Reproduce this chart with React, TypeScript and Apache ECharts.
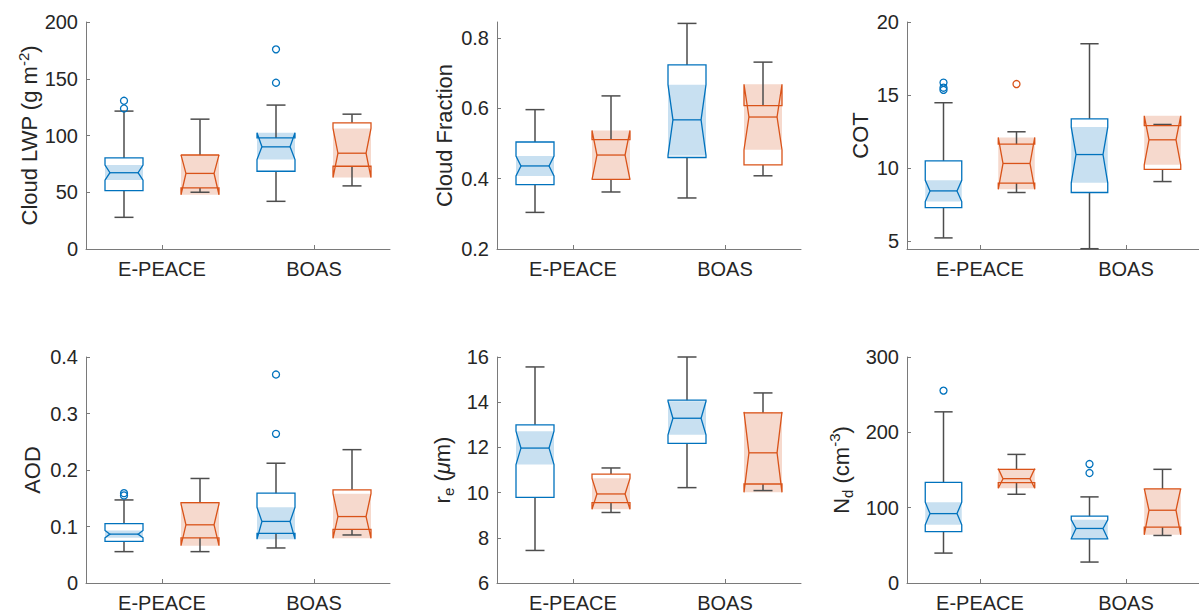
import React, { useEffect, useRef } from 'react';
import * as echarts from 'echarts';

// ---------- data ----------
const categories = ['E-PEACE', 'BOAS'];

// each row: [lower whisker, Q1, notch low, median, notch high, Q3, upper whisker]
const lwpBlue = [[27.9, 51.5, 60.7, 67.2, 73.9, 80.2, 121.5], [42.0, 68.5, 78.8, 90.0, 102.4, 97.9, 126.8]];
const lwpOrange = [[50.0, 53.8, 47.8, 66.6, 83.0, 82.8, 114.4], [55.6, 72.9, 62.9, 84.4, 106.2, 111.2, 118.8]];
const lwpBlueOut = [[0, 130.6], [0, 123.8], [1, 175.9], [1, 146.5]];
const lwpOrangeOut: number[][] = [];
const lwpTicks = [0, 50, 100, 150, 200];

const cfBlue = [[0.304, 0.383, 0.4075, 0.436, 0.464, 0.504, 0.596], [0.345, 0.46, 0.466, 0.567, 0.667, 0.723, 0.841]];
const cfOrange = [[0.362, 0.398, 0.397, 0.467, 0.537, 0.511, 0.635], [0.408, 0.439, 0.482, 0.575, 0.668, 0.6075, 0.731]];
const cfBlueOut: number[][] = [];
const cfOrangeOut: number[][] = [];
const cfTicks = [0.2, 0.4, 0.6, 0.8];

const cotBlue = [[5.21, 7.29, 7.7, 8.43, 9.16, 10.49, 14.47], [4.47, 8.32, 8.98, 10.92, 12.8, 13.37, 18.51]];
const cotOrange = [[8.32, 8.96, 8.54, 10.31, 12.09, 11.63, 12.48], [9.07, 9.9, 10.22, 11.93, 13.57, 12.9, 12.98]];
const cotBlueOut = [[0, 15.85], [0, 15.5], [0, 15.35]];
const cotOrangeOut = [[0, 15.75]];
const cotTicks = [5, 10, 15, 20];

const aodBlue = [[0.0555, 0.0735, 0.08, 0.0865, 0.093, 0.105, 0.147], [0.062, 0.088, 0.0776, 0.109, 0.134, 0.159, 0.212]];
const aodOrange = [[0.0555, 0.08, 0.066, 0.103, 0.14, 0.142, 0.185], [0.085, 0.095, 0.079, 0.1176, 0.158, 0.165, 0.236]];
const aodBlueOut = [[0, 0.159], [0, 0.155], [1, 0.369], [1, 0.264]];
const aodOrangeOut: number[][] = [];
const aodTicks = [0, 0.1, 0.2, 0.3, 0.4];

const reBlue = [[7.44, 9.79, 11.24, 11.97, 12.72, 13.0, 15.56], [10.22, 12.18, 12.56, 13.29, 14.04, 14.09, 16.0]];
const reOrange = [[9.12, 9.56, 9.26, 9.94, 10.63, 10.82, 11.09], [10.09, 10.38, 10.01, 11.76, 13.57, 13.53, 14.41]];
const reBlueOut: number[][] = [];
const reOrangeOut: number[][] = [];
const reTicks = [6, 8, 10, 12, 14, 16];

const ndBlue = [[39.7, 68.3, 77.2, 92.1, 107.2, 133.7, 227.2], [27.8, 58.5, 59.0, 72.4, 83.8, 88.7, 114.3]];
const ndOrange = [[117.8, 133.2, 125.7, 138.5, 151.8, 150.9, 170.7], [63.1, 74.1, 64.0, 96.6, 125.5, 124.9, 150.9]];
const ndBlueOut = [[0, 255.4], [1, 157.9], [1, 146.0]];
const ndOrangeOut: number[][] = [];
const ndTicks = [0, 100, 200, 300];

// ---------- styling ----------
const BLUE = '#0072BD';
const ORANGE = '#D95319';
const BLUE_FILL = '#c8e0f1';
const ORANGE_FILL = '#f6d9cd';
const WHISKER = '#4d4d4d';
const TEXT = '#262626';
const AXIS = '#7a7a7a';
const FONT = '"Liberation Sans", Arial, Helvetica, sans-serif';

const panels = [
  { blue: lwpBlue, orange: lwpOrange, blueOut: lwpBlueOut, orangeOut: lwpOrangeOut, min: 0, max: 200, ticks: lwpTicks, name: '{a|Cloud LWP (g m}{sup|-2}{a|)}', gap: 42 },
  { blue: cfBlue, orange: cfOrange, blueOut: cfBlueOut, orangeOut: cfOrangeOut, min: 0.2, max: 0.845, ticks: cfTicks, name: '{a|Cloud Fraction}', gap: 39 },
  { blue: cotBlue, orange: cotOrange, blueOut: cotBlueOut, orangeOut: cotOrangeOut, min: 4.45, max: 20, ticks: cotTicks, name: '{a|COT}', gap: 33 },
  { blue: aodBlue, orange: aodOrange, blueOut: aodBlueOut, orangeOut: aodOrangeOut, min: 0, max: 0.4, ticks: aodTicks, name: '{a|AOD}', gap: 40 },
  { blue: reBlue, orange: reOrange, blueOut: reBlueOut, orangeOut: reOrangeOut, min: 6, max: 16, ticks: reTicks, name: '{a|r}{sub|e}{a| (}{mu|μ}{a|m)}', gap: 41 },
  { blue: ndBlue, orange: ndOrange, blueOut: ndBlueOut, orangeOut: ndOrangeOut, min: 0, max: 300, ticks: ndTicks, name: '{a|N}{sub|d}{a| (cm}{sup|-3}{a|)}', gap: 52 },
];

const colLeft = [86, 497, 907];
const colWidth = [304, 304, 303];
const rowTop = [22, 357];
const rowHeight = [227, 226];

function makeBox(sign: number, color: string, fill: string) {
  return (params: any, api: any) => {
    const cat = api.value(0);
    const mn = api.value(1), q1 = api.value(2), nlo = api.value(3), med = api.value(4);
    const nhi = api.value(5), q3 = api.value(6), mx = api.value(7);
    const bw = api.size([1, 0])[0];
    const c = api.coord([cat, med]);
    const cx = c[0] + sign * 0.25 * bw;
    const w = 0.25 * bw;
    const L = cx - w / 2;
    const R = cx + w / 2;
    const d = 0.13 * w;
    const y = (v: number) => api.coord([cat, v])[1];
    const capHalf = w * 0.25;
    const ws = { stroke: WHISKER, lineWidth: 1.5 };
    return {
      type: 'group',
      children: [
        { type: 'rect', shape: { x: L, y: y(nhi), width: w, height: y(nlo) - y(nhi) }, style: { fill } },
        { type: 'line', shape: { x1: cx, y1: y(q3), x2: cx, y2: y(mx) }, style: ws },
        { type: 'line', shape: { x1: cx - capHalf, y1: y(mx), x2: cx + capHalf, y2: y(mx) }, style: ws },
        { type: 'line', shape: { x1: cx, y1: y(q1), x2: cx, y2: y(mn) }, style: ws },
        { type: 'line', shape: { x1: cx - capHalf, y1: y(mn), x2: cx + capHalf, y2: y(mn) }, style: ws },
        {
          type: 'polygon',
          shape: {
            points: [
              [L, y(q1)], [L, y(nlo)], [L + d, y(med)], [L, y(nhi)], [L, y(q3)],
              [R, y(q3)], [R, y(nhi)], [R - d, y(med)], [R, y(nlo)], [R, y(q1)],
            ],
          },
          style: { fill: 'none', stroke: color, lineWidth: 1.3, lineJoin: 'miter' },
        },
        { type: 'line', shape: { x1: L + d, y1: y(med), x2: R - d, y2: y(med) }, style: { stroke: color, lineWidth: 1.3 } },
      ],
    };
  };
}

function makeOutlier(sign: number, color: string) {
  return (params: any, api: any) => {
    const cat = api.value(0);
    const v = api.value(1);
    const bw = api.size([1, 0])[0];
    const p = api.coord([cat, v]);
    return {
      type: 'circle',
      shape: { cx: p[0] + sign * 0.25 * bw, cy: p[1], r: 3.5 },
      style: { fill: 'none', stroke: color, lineWidth: 1.3 },
    };
  };
}

function fmt(v: number) {
  return String(Math.round(v * 1000) / 1000);
}

function buildOption() {
  const grid: any[] = [];
  const xAxis: any[] = [];
  const yAxis: any[] = [];
  const series: any[] = [];
  panels.forEach((p, i) => {
    const col = i % 3;
    const row = Math.floor(i / 3);
    grid.push({ left: colLeft[col], top: rowTop[row], width: colWidth[col], height: rowHeight[row] });
    xAxis.push({
      type: 'category',
      gridIndex: i,
      data: categories,
      boundaryGap: true,
      axisLine: { show: true, lineStyle: { color: AXIS, width: 1 } },
      axisTick: { show: true, alignWithLabel: true, inside: true, length: 4, lineStyle: { color: AXIS } },
      axisLabel: { color: TEXT, fontSize: 20, fontFamily: FONT, margin: 10 },
      splitLine: { show: false },
    });
    yAxis.push({
      type: 'value',
      gridIndex: i,
      min: p.min,
      max: p.max,
      axisLine: { show: true, lineStyle: { color: AXIS, width: 1 } },
      axisTick: { show: true, inside: true, length: 4, customValues: p.ticks, lineStyle: { color: AXIS } },
      axisLabel: { color: TEXT, fontSize: 20, fontFamily: FONT, margin: 8, customValues: p.ticks, formatter: fmt },
      splitLine: { show: false },
      name: p.name,
      nameLocation: 'middle',
      nameGap: p.gap,
      nameTextStyle: {
        color: TEXT,
        fontFamily: FONT,
        fontSize: 22,
        rich: {
          a: { fontSize: 22, lineHeight: 28, color: TEXT, fontFamily: FONT },
          mu: { fontSize: 22, lineHeight: 28, color: TEXT, fontFamily: FONT, fontStyle: 'italic' },
          sup: { fontSize: 15, lineHeight: 15, verticalAlign: 'top', color: TEXT, fontFamily: FONT },
          sub: { fontSize: 15, lineHeight: 15, verticalAlign: 'bottom', color: TEXT, fontFamily: FONT },
        },
      },
    });
    const groups = [
      { stats: p.blue, out: p.blueOut, sign: -1, color: BLUE, fill: BLUE_FILL },
      { stats: p.orange, out: p.orangeOut, sign: 1, color: ORANGE, fill: ORANGE_FILL },
    ];
    groups.forEach((g) => {
      series.push({
        type: 'custom',
        xAxisIndex: i,
        yAxisIndex: i,
        silent: true,
        renderItem: makeBox(g.sign, g.color, g.fill),
        encode: { x: 0, y: [1, 2, 3, 4, 5, 6, 7] },
        data: g.stats.map((s, k) => [k, ...s]),
        z: 2,
      });
    });
    groups.forEach((g) => {
      if (g.out.length) {
        series.push({
          type: 'custom',
          xAxisIndex: i,
          yAxisIndex: i,
          silent: true,
          renderItem: makeOutlier(g.sign, g.color),
          encode: { x: 0, y: 1 },
          data: g.out,
          z: 3,
        });
      }
    });
  });
  return { animation: false, backgroundColor: '#ffffff', grid, xAxis, yAxis, series };
}

export default function App() {
  const ref = useRef<HTMLDivElement>(null);
  useEffect(() => {
    if (!ref.current) return;
    const chart = echarts.init(ref.current, undefined, { renderer: 'svg' });
    chart.setOption(buildOption() as any);
    return () => chart.dispose();
  }, []);
  return (
    <div
      ref={ref}
      style={{ position: 'fixed', left: 0, top: 0, width: 1199, height: 614, background: '#fff' }}
    />
  );
}
